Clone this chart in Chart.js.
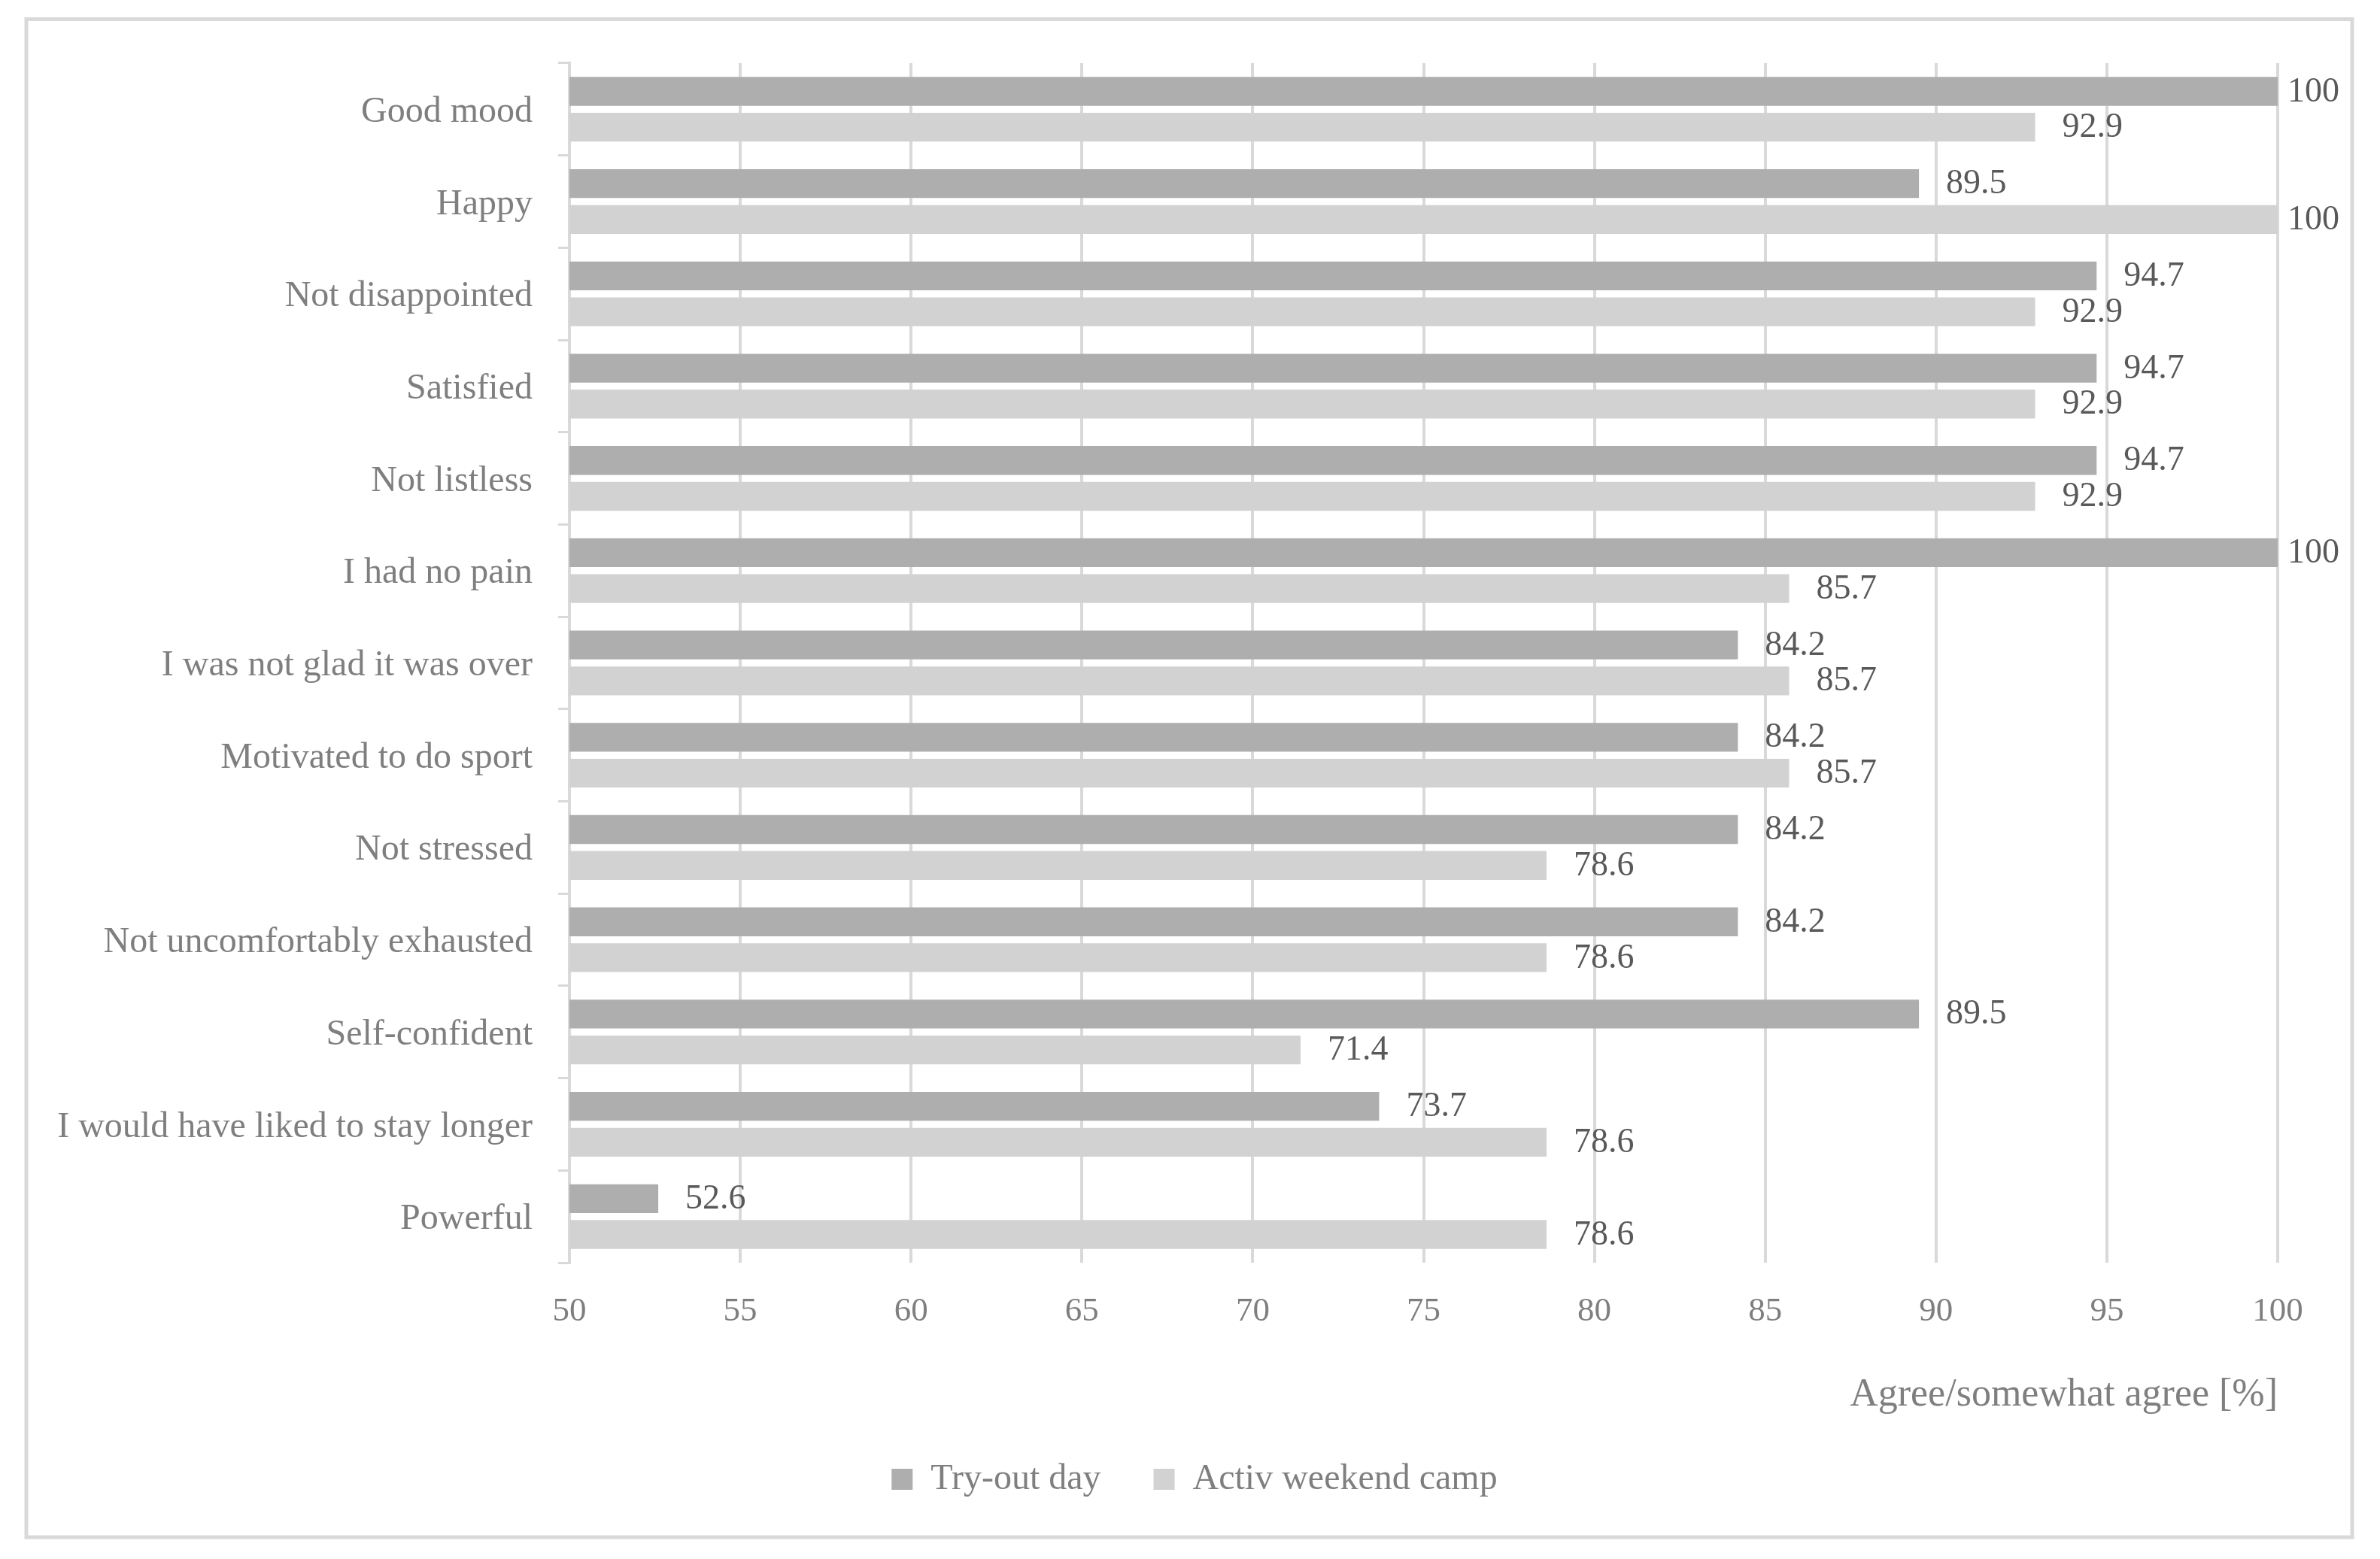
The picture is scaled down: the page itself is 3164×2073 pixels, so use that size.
<!DOCTYPE html>
<html lang="en">

<head>
    <meta charset="UTF-8">
    <title>Agree / somewhat agree</title>
    <style>
        body {
            margin: 0;
            background: #ffffff;
        }
    </style>
</head>

<body>
    <canvas id="agreeBar" width="3164" height="2073"></canvas>
    <script src="https://cdn.jsdelivr.net/npm/chart.js"></script>
    <script>
        const categories = [
            'Good mood', 'Happy', 'Not disappointed', 'Satisfied', 'Not listless',
            'I had no pain', 'I was not glad it was over', 'Motivated to do sport',
            'Not stressed', 'Not uncomfortably exhausted', 'Self-confident',
            'I would have liked to stay longer', 'Powerful'
        ];
        const tryOutDay = [100, 89.5, 94.7, 94.7, 94.7, 100, 84.2, 84.2, 84.2, 84.2, 89.5, 73.7, 52.6];
        const weekendCamp = [92.9, 100, 92.9, 92.9, 92.9, 85.7, 85.7, 85.7, 78.6, 78.6, 71.4, 78.6, 78.6];
        const seriesNames = ['Try-out day', 'Activ weekend camp'];
        const axisTitle = 'Agree/somewhat agree [%]';

        const serif = 'Liberation Serif';
        const lineGrey = '#d9d9d9';

        // frame round the whole picture
        const framePlugin = {
            id: 'frame',
            beforeDraw(chart) {
                const ctx = chart.ctx;
                ctx.save();
                ctx.fillStyle = '#ffffff';
                ctx.fillRect(0, 0, chart.width, chart.height);
                ctx.strokeStyle = lineGrey;
                ctx.lineWidth = 5;
                ctx.strokeRect(35, 25.5, 3092, 2018.5);
                ctx.restore();
            },
            // legend sits a bit right of the canvas centre
            afterLayout(chart) {
                chart.legend.left += 148;
            }
        };

        // value next to the end of each bar
        const valueLabels = {
            id: 'valueLabels',
            afterDatasetsDraw(chart) {
                const ctx = chart.ctx;
                ctx.save();
                ctx.font = '46px "' + serif + '"';
                ctx.fillStyle = '#595959';
                ctx.textBaseline = 'middle';
                ctx.textAlign = 'left';
                chart.data.datasets.forEach(function (ds, i) {
                    chart.getDatasetMeta(i).data.forEach(function (bar, j) {
                        const txt = String(ds.data[j]);
                        const w = ctx.measureText(txt).width;
                        let x = bar.x + 36;
                        if (x + w > 3110) x = 3110 - w;
                        ctx.fillText(txt, x, bar.y + 1);
                    });
                });
                ctx.restore();
            }
        };

        new Chart(document.getElementById('agreeBar'), {
            type: 'bar',
            data: {
                labels: categories,
                datasets: [{
                    label: seriesNames[0],
                    data: tryOutDay,
                    backgroundColor: '#aeaeae'
                }, {
                    label: seriesNames[1],
                    data: weekendCamp,
                    backgroundColor: '#d2d2d2'
                }]
            },
            options: {
                indexAxis: 'y',
                responsive: false,
                animation: false,
                categoryPercentage: 0.778,
                barPercentage: 0.803,
                layout: {
                    padding: { top: 84, right: 136, bottom: 72, left: 0 }
                },
                scales: {
                    x: {
                        min: 50,
                        max: 100,
                        afterFit: function (scale) { scale.height = 194; },
                        ticks: {
                            stepSize: 5,
                            padding: 38,
                            color: '#7f7f7f',
                            font: { family: serif, size: 45 }
                        },
                        grid: {
                            color: lineGrey,
                            lineWidth: 4,
                            drawTicks: false
                        },
                        border: { display: false },
                        title: {
                            display: true,
                            text: axisTitle,
                            align: 'end',
                            color: '#7f7f7f',
                            font: { family: serif, size: 52 },
                            padding: { top: 0, bottom: -14 }
                        }
                    },
                    y: {
                        afterFit: function (scale) { scale.width = 757; },
                        ticks: {
                            padding: 34,
                            labelOffset: 4,
                            color: '#7f7f7f',
                            font: { family: serif, size: 48 }
                        },
                        grid: {
                            drawOnChartArea: false,
                            tickLength: 15,
                            color: lineGrey,
                            lineWidth: 3
                        },
                        border: { color: lineGrey, width: 4 }
                    }
                },
                plugins: {
                    legend: {
                        position: 'bottom',
                        labels: {
                            boxWidth: 28,
                            boxHeight: 28,
                            padding: 70,
                            color: '#7f7f7f',
                            font: { family: serif, size: 48 }
                        }
                    },
                    tooltip: { enabled: false }
                }
            },
            plugins: [framePlugin, valueLabels]
        });
    </script>
</body>

</html>
